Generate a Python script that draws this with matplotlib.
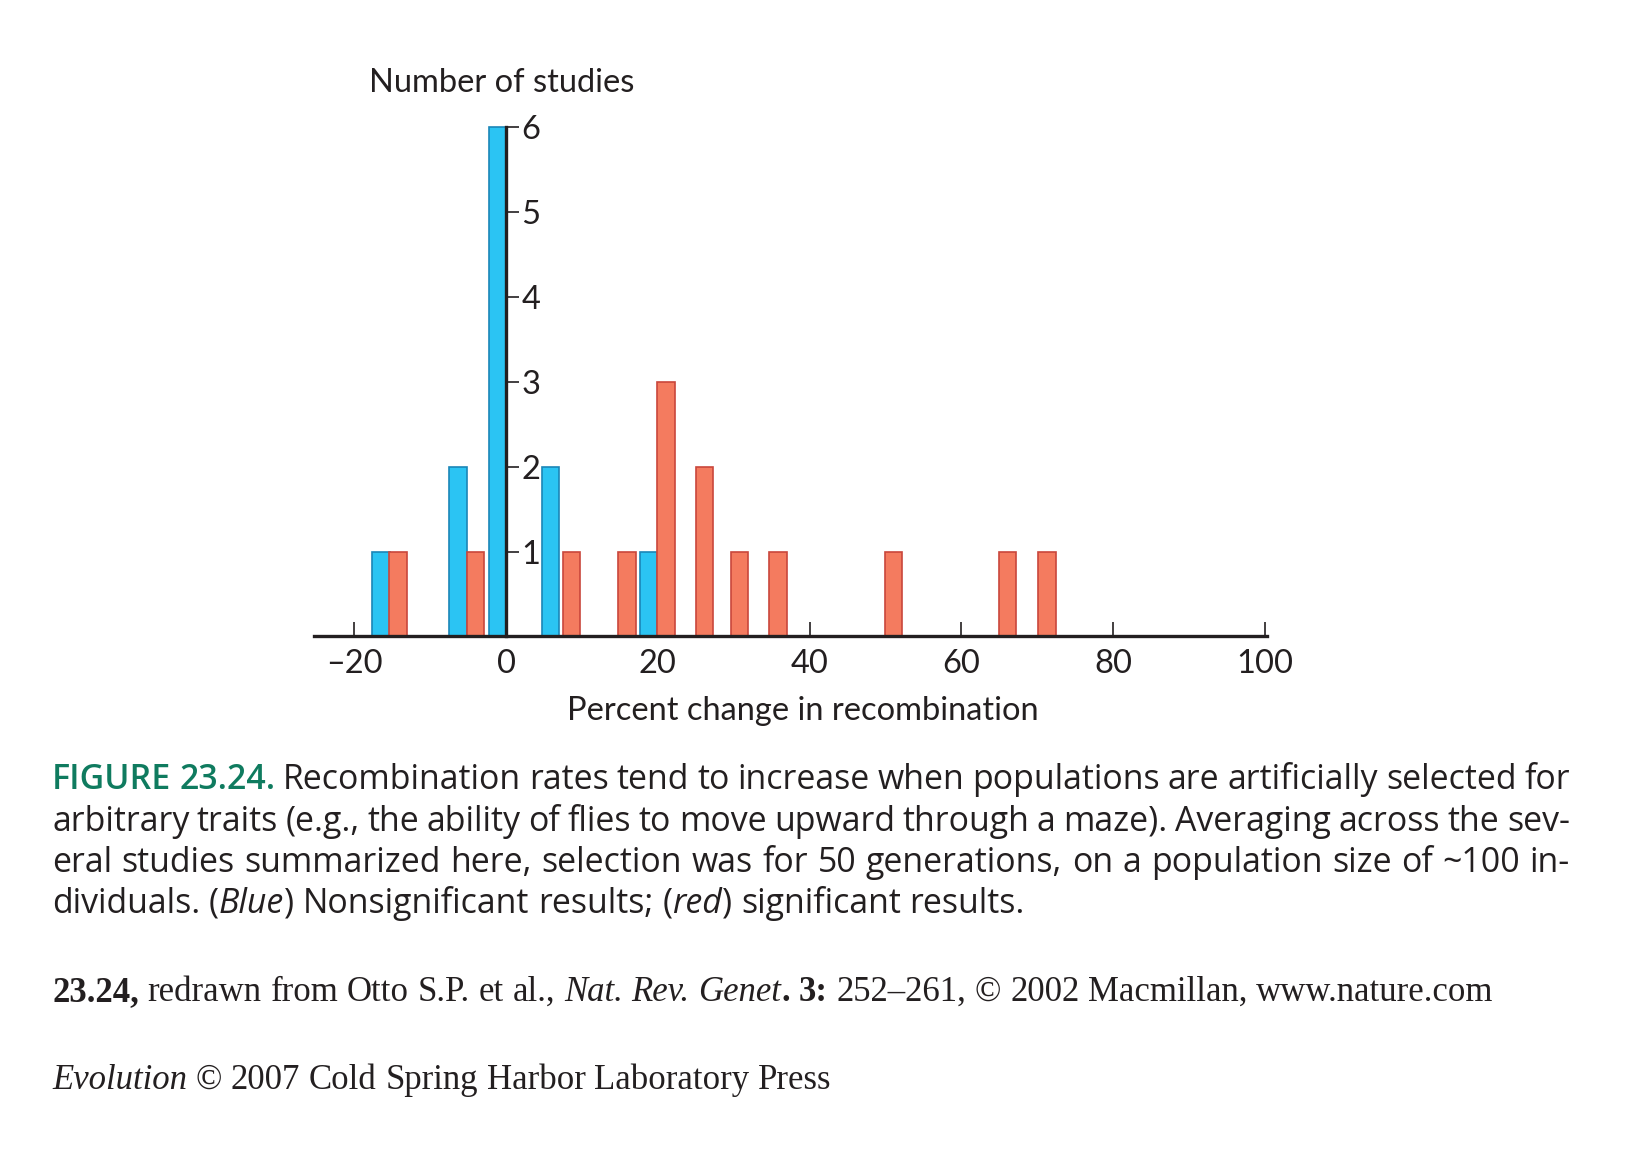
import matplotlib
matplotlib.use("Agg")
import matplotlib.pyplot as plt

# bar left edges (percent change) and counts
blue_left = [-17.6, -7.5, -2.3, 4.7, 17.6]
blue_count = [1, 2, 6, 2, 1]
red_left = [-15.4, -5.2, 7.5, 14.8, 19.9, 25.0, 29.6, 34.7, 49.9, 64.9, 70.1]
red_count = [1, 1, 1, 1, 3, 2, 1, 1, 1, 1, 1]
bar_width = 2.3

x_ticks = [-20, 0, 20, 40, 60, 80, 100]
x_labels = ["\u201320", "0", "20", "40", "60", "80", "100"]
y_ticks = [1, 2, 3, 4, 5, 6]

W, H = 1632, 1176
INK = "#231f20"
SANS = "Lato"
CAP = "Open Sans"
SERIF = "Liberation Serif"

plt.rcParams["font.family"] = SANS
fig = plt.figure(figsize=(W / 100, H / 100), dpi=100)

ax = fig.add_axes([0.1924, 0.4588, 0.5837, 0.4404])
ax.bar(blue_left, blue_count, width=bar_width, align="edge",
       color="#2bc4f3", edgecolor="#1b86b8", linewidth=1.2, zorder=2)
ax.bar(red_left, red_count, width=bar_width, align="edge",
       color="#f47b5f", edgecolor="#c9473c", linewidth=1.2, zorder=2)
ax.set_xlim(-25.3, 100.2)
ax.set_ylim(0, 6.1)

for s in ["top", "left"]:
    ax.spines[s].set_visible(False)
ax.spines["bottom"].set_linewidth(2.4)
ax.spines["bottom"].set_color(INK)
ax.spines["right"].set_position(("data", 0))
ax.spines["right"].set_bounds(0, 6)
ax.spines["right"].set_linewidth(2.4)
ax.spines["right"].set_color(INK)
ax.spines["right"].set_zorder(3)

ax.yaxis.tick_right()
ax.set_yticks(y_ticks)
ax.tick_params(axis="y", direction="out", length=9, width=1.2, pad=2,
               labelsize=23.5, colors=INK)
ax.set_xticks(x_ticks)
ax.set_xticklabels(x_labels)
ax.tick_params(axis="x", direction="in", length=10, width=1.2, pad=9,
               labelsize=23.5, colors=INK)

fig.text(502 / W, 1 - 83 / H, "Number of studies", ha="center", va="center",
         fontsize=23.5, color=INK)
fig.text(803 / W, 1 - 711 / H, "Percent change in recombination", ha="center",
         va="center", fontsize=23.5, color=INK)

renderer = fig.canvas.get_renderer()


def make_words(words, size, family, y):
    placed = []
    total = 0
    for w in words:
        parts = []
        for s, kw in w:
            t = fig.text(0, 1 - y / H, s, fontsize=size, family=family,
                         va="baseline", color=kw.get("color", INK),
                         style=kw.get("style", "normal"),
                         weight=kw.get("weight", "normal"))
            parts.append((t, t.get_window_extent(renderer).width))
        placed.append(parts)
        total += sum(p[1] for p in parts)
    return placed, total


def space_width(size, family):
    a = fig.text(0, 0, "x x", fontsize=size, family=family)
    b = fig.text(0, 0, "xx", fontsize=size, family=family)
    sp = a.get_window_extent(renderer).width - b.get_window_extent(renderer).width
    a.remove()
    b.remove()
    return sp


def natural_width(words, size, family):
    placed, total = make_words(words, size, family, 0)
    for parts in placed:
        for t, _ in parts:
            t.remove()
    return total + space_width(size, family) * (len(words) - 1)


def fit_size(words, family, target, guess=20):
    return guess * target / natural_width(words, guess, family)


def draw_line(words, x0, y, size, family, width=None):
    """words: list of words, each a list of (text, props) runs."""
    placed, total = make_words(words, size, family, y)
    gap = space_width(size, family)
    if width is not None and len(words) > 1:
        gap = (width - total) / (len(words) - 1)
    x = x0
    for parts in placed:
        for t, wd in parts:
            t.set_x(x / W)
            x += wd
        x += gap


def plain(text, **kw):
    return [[(w, kw)] for w in text.split()]


GREEN = {"color": "#0f7b5f", "weight": "semibold"}
IT = {"style": "italic"}
BOLD = {"weight": "bold"}

cap1 = plain("FIGURE 23.24.", **GREEN) + plain(
    "Recombination rates tend to increase when populations are artificially selected for")
cap2 = plain("arbitrary traits (e.g., the ability of flies to move upward through a maze). "
             "Averaging across the sev-")
cap3 = plain("eral studies summarized here, selection was for 50 generations, on a population "
             "size of ~100 in-")
cap4 = (plain("dividuals.") + [[("(", {}), ("Blue", IT), (")", {})]]
        + plain("Nonsignificant results;") + [[("(", {}), ("red", IT), (")", {})]]
        + plain("significant results."))

cap_size = fit_size(cap4, CAP, 975)
draw_line(cap1, 52, 789, cap_size, CAP, width=1518)
draw_line(cap2, 52, 831, cap_size, CAP, width=1518)
draw_line(cap3, 52, 872, cap_size, CAP, width=1518)
draw_line(cap4, 52, 913, cap_size, CAP)

src = ([[("23.24,", BOLD)]] + plain("redrawn from Otto S.P. et al.,")
       + [[("Nat.", IT)], [("Rev.", IT)], [("Genet", IT), (".", BOLD)], [("3:", BOLD)]]
       + plain("252\u2013261, \u00a9 2002 Macmillan, www.nature.com"))
foot = [[("Evolution", IT)]] + plain("\u00a9 2007 Cold Spring Harbor Laboratory Press")
serif_size = fit_size(foot, SERIF, 777)
draw_line(src, 52, 1001, serif_size, SERIF)
draw_line(foot, 52, 1089, serif_size, SERIF)

fig.savefig("out.png", dpi=100)
